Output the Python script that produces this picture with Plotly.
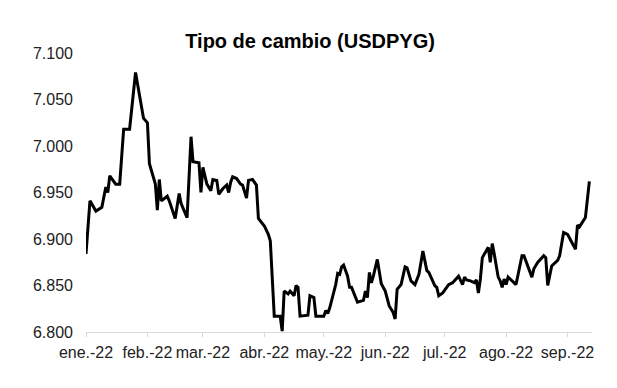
import plotly.graph_objects as go

dates = [
    "2022-01-01", "2022-01-03", "2022-01-06", "2022-01-09", "2022-01-11", "2022-01-12",
    "2022-01-13", "2022-01-16", "2022-01-18", "2022-01-20", "2022-01-23", "2022-01-26",
    "2022-01-30", "2022-02-01", "2022-02-02", "2022-02-05", "2022-02-06", "2022-02-07",
    "2022-02-08", "2022-02-11", "2022-02-12", "2022-02-15", "2022-02-17", "2022-02-18",
    "2022-02-21", "2022-02-23", "2022-02-24", "2022-02-27", "2022-02-28", "2022-03-01",
    "2022-03-03", "2022-03-05", "2022-03-06", "2022-03-08", "2022-03-09", "2022-03-11",
    "2022-03-13", "2022-03-14", "2022-03-15", "2022-03-16", "2022-03-18", "2022-03-20",
    "2022-03-21", "2022-03-23", "2022-03-24", "2022-03-26", "2022-03-28", "2022-03-29",
    "2022-04-01", "2022-04-03", "2022-04-04", "2022-04-06", "2022-04-09", "2022-04-10",
    "2022-04-11", "2022-04-13", "2022-04-14", "2022-04-16", "2022-04-17", "2022-04-18",
    "2022-04-19", "2022-04-23", "2022-04-24", "2022-04-26", "2022-04-27", "2022-05-01",
    "2022-05-02", "2022-05-03", "2022-05-04", "2022-05-07", "2022-05-08", "2022-05-09",
    "2022-05-10", "2022-05-11", "2022-05-13", "2022-05-14", "2022-05-15", "2022-05-18",
    "2022-05-21", "2022-05-22", "2022-05-23", "2022-05-24", "2022-05-25", "2022-05-26",
    "2022-05-28", "2022-05-30", "2022-06-01", "2022-06-03", "2022-06-05", "2022-06-06",
    "2022-06-07", "2022-06-09", "2022-06-11", "2022-06-12", "2022-06-14", "2022-06-16",
    "2022-06-18", "2022-06-20", "2022-06-22", "2022-06-23", "2022-06-26", "2022-06-27",
    "2022-06-28", "2022-06-30", "2022-07-02", "2022-07-03", "2022-07-05", "2022-07-06",
    "2022-07-08", "2022-07-10", "2022-07-11", "2022-07-12", "2022-07-14", "2022-07-16",
    "2022-07-17", "2022-07-18", "2022-07-19", "2022-07-20", "2022-07-21", "2022-07-23",
    "2022-07-24", "2022-07-25", "2022-07-26", "2022-07-28", "2022-07-29", "2022-07-30",
    "2022-07-31", "2022-08-01", "2022-08-02", "2022-08-06", "2022-08-09", "2022-08-10",
    "2022-08-14", "2022-08-15", "2022-08-17", "2022-08-20", "2022-08-21", "2022-08-22",
    "2022-08-24", "2022-08-27", "2022-08-28", "2022-08-30", "2022-09-01", "2022-09-05",
    "2022-09-06", "2022-09-07", "2022-09-10", "2022-09-12",
]

usdpyg = [
    6.884, 6.941, 6.930, 6.934, 6.956, 6.950,
    6.968, 6.959, 6.959, 7.018, 7.018, 7.079,
    7.030, 7.025, 6.981, 6.959, 6.931, 6.964,
    6.941, 6.946, 6.941, 6.922, 6.949, 6.938,
    6.923, 7.010, 6.983, 6.982, 6.950, 6.977,
    6.959, 6.952, 6.964, 6.963, 6.948, 6.954,
    6.958, 6.950, 6.961, 6.967, 6.965, 6.959,
    6.958, 6.944, 6.963, 6.964, 6.958, 6.922,
    6.914, 6.905, 6.898, 6.817, 6.817, 6.801,
    6.844, 6.841, 6.844, 6.839, 6.850, 6.848,
    6.817, 6.818, 6.839, 6.837, 6.817, 6.817,
    6.823, 6.820, 6.826, 6.851, 6.863, 6.862,
    6.870, 6.872, 6.860, 6.848, 6.848, 6.832,
    6.834, 6.844, 6.837, 6.864, 6.853, 6.860,
    6.878, 6.852, 6.844, 6.828, 6.821, 6.814,
    6.846, 6.851, 6.870, 6.869, 6.855, 6.851,
    6.862, 6.887, 6.866, 6.864, 6.850, 6.848,
    6.839, 6.842, 6.848, 6.851, 6.853, 6.855,
    6.860, 6.851, 6.859, 6.856, 6.855, 6.853,
    6.856, 6.842, 6.857, 6.880, 6.884, 6.891,
    6.875, 6.895, 6.884, 6.859, 6.855, 6.848,
    6.857, 6.851, 6.859, 6.851, 6.882, 6.882,
    6.859, 6.868, 6.875, 6.882, 6.880, 6.850,
    6.871, 6.877, 6.882, 6.907, 6.905, 6.889,
    6.915, 6.913, 6.923, 6.962,
]

month_ticks = ["2022-01-01", "2022-02-01", "2022-03-01", "2022-04-01", "2022-05-01",
               "2022-06-01", "2022-07-01", "2022-08-01", "2022-09-01"]
month_labels = ["ene.-22", "feb.-22", "mar.-22", "abr.-22", "may.-22",
                "jun.-22", "jul.-22", "ago.-22", "sep.-22"]

y_ticks = [6.80, 6.85, 6.90, 6.95, 7.00, 7.05, 7.10]
y_labels = ["6.800", "6.850", "6.900", "6.950", "7.000", "7.050", "7.100"]

fig = go.Figure()
fig.add_trace(go.Scatter(
    x=dates, y=usdpyg, mode="lines",
    line=dict(color="black", width=3),
    showlegend=False, hoverinfo="x+y",
))

# page has an 8px body margin, so the figure is sized/offset to compensate
fig.update_layout(
    width=609, height=380,
    paper_bgcolor="white", plot_bgcolor="white",
    margin=dict(l=78, r=25, t=45, b=56),
    font=dict(family="Liberation Sans, Arial, sans-serif", size=16, color="#222222"),
    title=dict(
        text="<b>Tipo de cambio (USDPYG)</b>",
        x=0.496, xref="container", xanchor="center",
        y=0.913, yref="container", yanchor="middle",
        font=dict(size=20, color="black"),
    ),
)

fig.update_xaxes(
    type="date",
    range=["2022-01-01", "2022-09-13 08:00"],
    tickmode="array", tickvals=month_ticks, ticktext=month_labels,
    showgrid=False, zeroline=False,
    showline=True, linecolor="#d9d9d9", linewidth=1,
    ticks="outside", ticklen=4, tickcolor="#d9d9d9",
    ticklabelstandoff=2,
    tickfont=dict(size=16, color="#222222"),
)

fig.update_yaxes(
    range=[6.8, 7.1],
    tickmode="array", tickvals=y_ticks, ticktext=y_labels,
    showgrid=False, zeroline=False, showline=False,
    ticks="", ticklabelstandoff=12,
    tickfont=dict(size=16, color="#222222"),
)

fig.write_html("out.html")
